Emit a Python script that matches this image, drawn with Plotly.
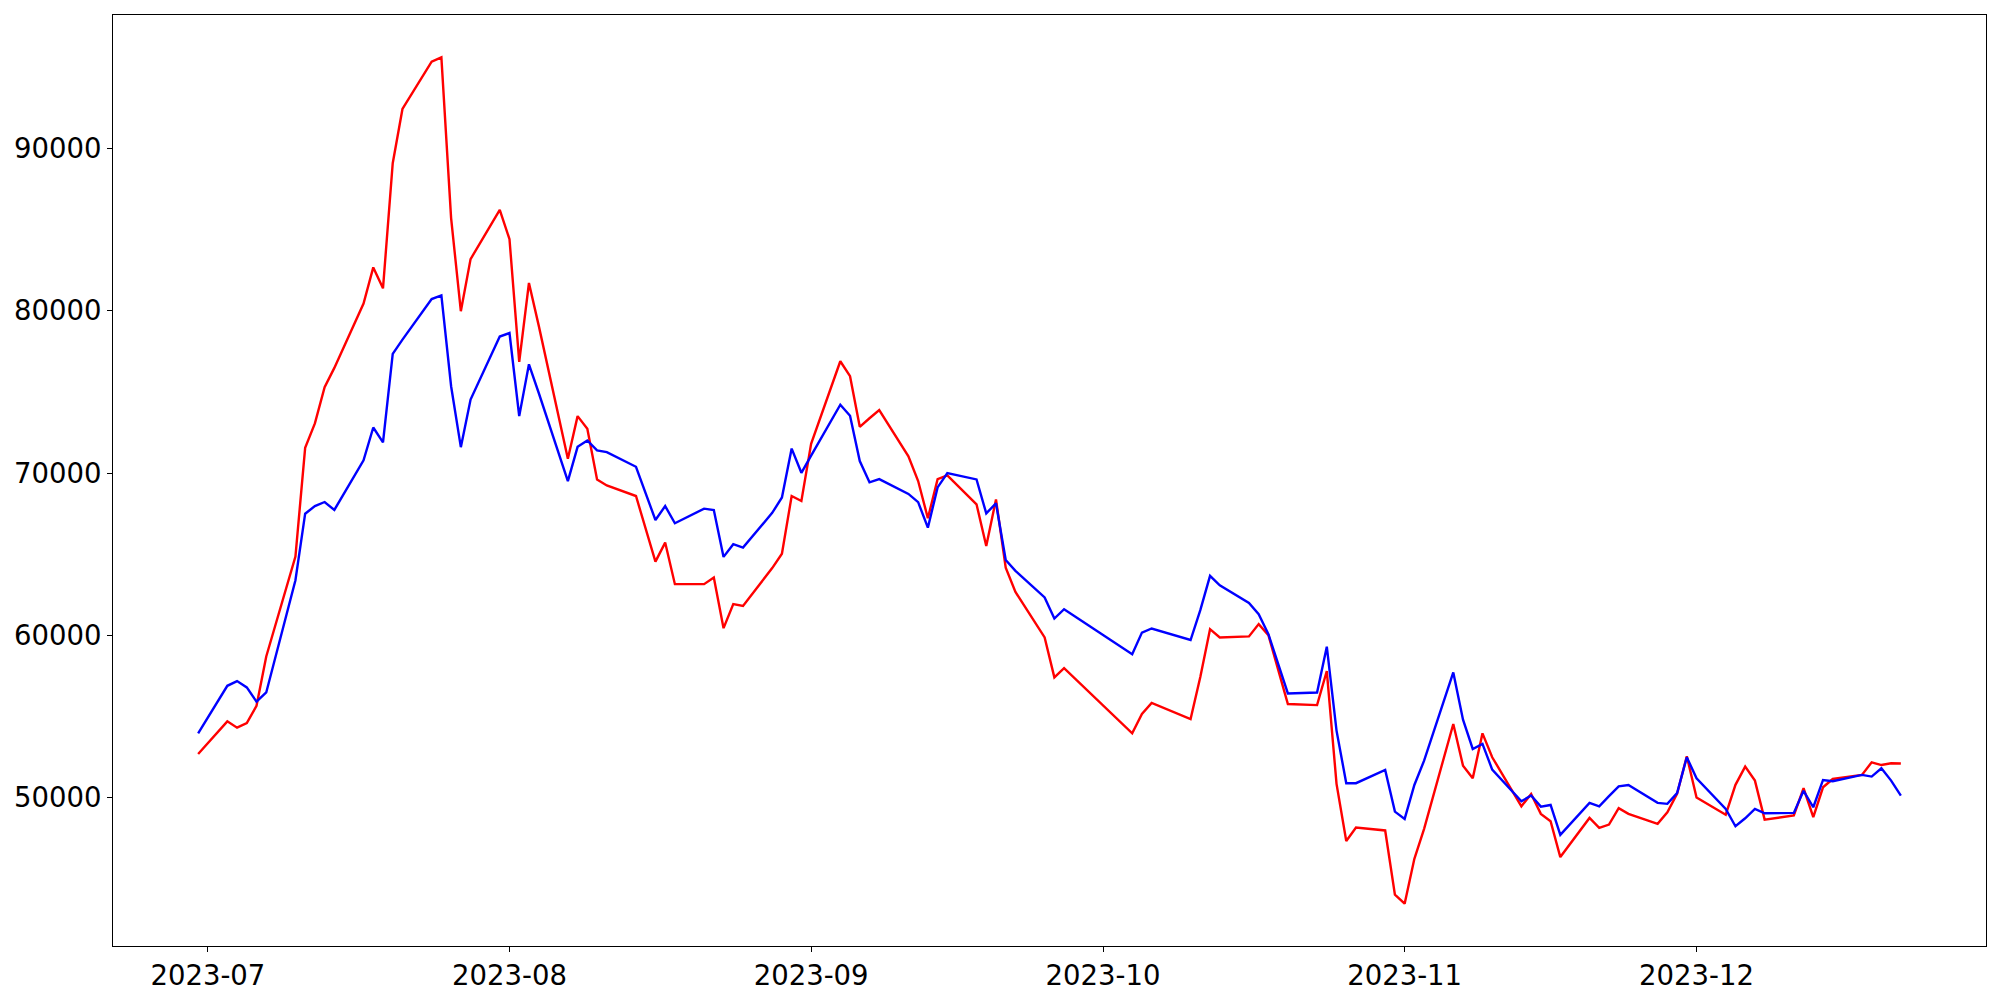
import pandas as pd
import plotly.graph_objects as go

# Trading calendar (Korean exchange: weekdays minus holidays)
start_date = "2023-06-30"
end_date = "2023-12-22"
holidays = ["2023-08-15", "2023-09-28", "2023-09-29", "2023-10-02", "2023-10-03", "2023-10-09"]
dates = pd.bdate_range(start_date, end_date, freq="C", holidays=holidays)

red_values = [
    52700, 54710, 54320, 54610, 55670, 58710,
    64860, 71560, 73060, 75290, 76480,
    80440, 82670, 81380, 89090, 92430,
    95340, 95610, 85710, 79970, 83180,
    86220, 84410, 76850, 81710, 79100,
    70880, 73510, 72730, 69610, 69240,
    68590, 64550, 65720, 63160,
    63160, 63570, 60450, 61930, 61820,
    64150, 65030, 68590, 68280, 71800,
    76890, 75970, 72850, 73380, 73880,
    71030, 69510, 67220, 69630, 69860,
    68080, 65510, 68380, 64180, 62680,
    59880, 57420, 57990,
    53970, 55160, 55840,
    54850, 57440, 60390, 59880,
    59940, 60700, 60020, 57900, 55780,
    55710, 57810, 50860, 47340, 48170,
    47990, 44030, 43480, 46240, 48090,
    54550, 51980, 51200, 53970, 52500,
    49480, 50240, 49010, 48560, 46350,
    48760, 48150, 48350, 49360, 49010,
    48400, 49110, 50240, 52560, 50020,
    48960, 50800, 51920, 51060, 48660,
    48910, 50590, 48810, 50650, 51160,
    51410, 52190, 52020, 52130, 52110,
]

blue_values = [
    53970, 56900, 57190, 56800, 55920, 56490,
    63400, 67500, 67970, 68220, 67730,
    70790, 72810, 71890, 77340, 78220,
    80720, 80950, 75350, 71600, 74530,
    78410, 78630, 73510, 76700, 74950,
    69510, 71620, 72010, 71400, 71290,
    70390, 67110, 67970, 66910,
    67810, 67730, 64840, 65620, 65410,
    67550, 68500, 71510, 70020, 71080,
    74210, 73530, 70740, 69430, 69630,
    68720, 68210, 66640, 69120, 70000,
    69610, 67520, 68140, 64650, 63980,
    62340, 61040, 61620,
    58850, 60180, 60430,
    59720, 61560, 63670, 63090,
    62000, 61310, 60080, 58260, 56430,
    56490, 59310, 54140, 50900, 50900,
    51720, 49150, 48700, 50790, 52290,
    57720, 54810, 53010, 53320, 51740,
    49790, 50140, 49460, 49560, 47720,
    49690, 49480, 50100, 50710, 50790,
    49690, 49630, 50290, 52500, 51200,
    49320, 48250, 48740, 49320, 49050,
    49070, 50430, 49420, 51100, 51020,
    51410, 51310, 51820, 51060, 50140,
]

x_tick_vals = ["2023-07-01", "2023-08-01", "2023-09-01", "2023-10-01", "2023-11-01", "2023-12-01"]
x_tick_text = ["2023-07", "2023-08", "2023-09", "2023-10", "2023-11", "2023-12"]
y_tick_vals = [50000, 60000, 70000, 80000, 90000]

fig = go.Figure()
fig.add_trace(go.Scatter(x=dates, y=red_values, mode="lines",
                         line=dict(color="#ff0000", width=2.4), showlegend=False))
fig.add_trace(go.Scatter(x=dates, y=blue_values, mode="lines",
                         line=dict(color="#0000ff", width=2.4), showlegend=False))

# matplotlib-like 5% margins
span_days = (dates[-1] - dates[0]) / pd.Timedelta(days=1)
pad = pd.Timedelta(days=span_days * 0.05)
x_range = [dates[0] - pad, dates[-1] + pad]
all_vals = red_values + blue_values
ymin, ymax = min(all_vals), max(all_vals)
ypad = (ymax - ymin) * 0.05
y_range = [ymin - ypad, ymax + ypad]

axis_font = dict(family="DejaVu Sans", size=27.5, color="black")
fig.update_xaxes(
    type="date", range=x_range, tickvals=x_tick_vals, ticktext=x_tick_text,
    showgrid=False, zeroline=False, showline=True, mirror=True,
    linecolor="black", linewidth=1.1, ticks="outside", ticklen=5,
    tickwidth=1.1, tickcolor="black", tickfont=axis_font, automargin=False,
)
fig.update_yaxes(
    range=y_range, tickvals=y_tick_vals, tickformat="d",
    showgrid=False, zeroline=False, showline=True, mirror=True,
    linecolor="black", linewidth=1.1, ticks="outside", ticklen=5,
    tickwidth=1.1, tickcolor="black", tickfont=axis_font, automargin=False,
)
# page body has an 8px default margin; size figure to fit the 2000x1000 window
fig.update_layout(
    width=1984, height=984,
    margin=dict(l=105, r=6, t=7, b=46, pad=0),
    paper_bgcolor="white", plot_bgcolor="white",
    font=dict(family="DejaVu Sans", color="black"),
)

fig.write_html("out.html")
